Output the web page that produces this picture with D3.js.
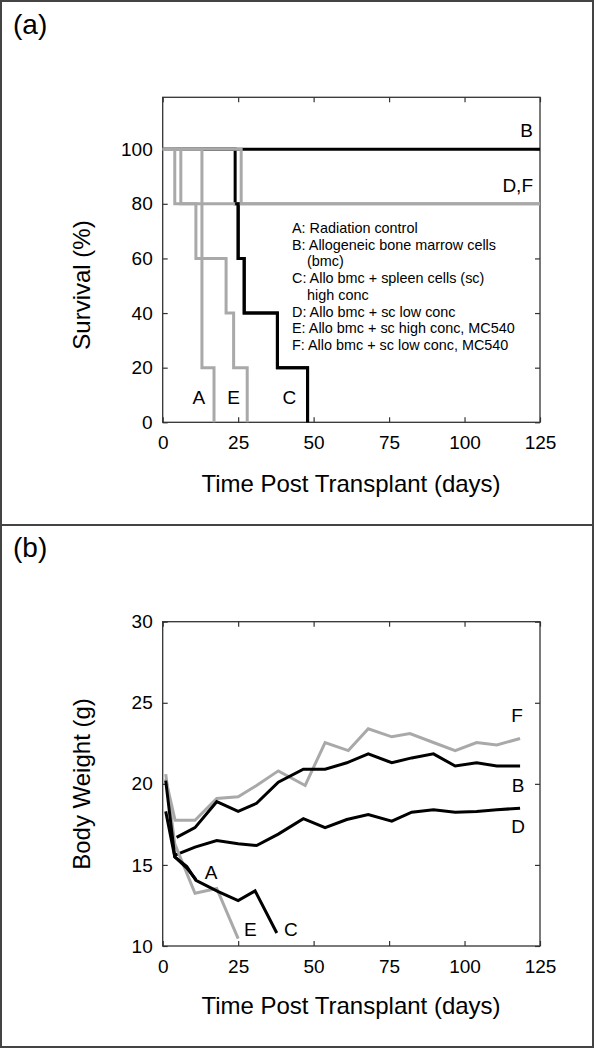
<!DOCTYPE html>
<html>
<head>
<meta charset="utf-8">
<script src="https://cdn.jsdelivr.net/npm/d3@7"></script>
<style>
  html, body { margin: 0; padding: 0; background: #fff; }
  svg { display: block; font-family: "Liberation Sans", Arial, sans-serif; }
</style>
</head>
<body>
<svg id="chart" width="596" height="1050"></svg>
<script>
// ---------- Panel (a): survival (step curves) ----------
const survXTicks = [0, 25, 50, 75, 100, 125];
const survYTicks = [0, 20, 40, 60, 80, 100];
const survA = [[0, 100], [13, 20], [17, 0]];
const survB = [[0, 100], [125, 100]];
const survC = [[0, 100], [24, 80], [25, 60], [27, 40], [38, 20], [48, 0]];
const survD = [[0, 100], [4, 80], [125, 80]];
const survE = [[0, 100], [6, 80], [11, 60], [21, 40], [23.5, 20], [28, 0]];
const survF = [[0, 100], [26, 80], [125, 80]];
const legendLines = [
  ["A: Radiation control", 0],
  ["B: Allogeneic bone marrow cells", 0],
  ["(bmc)", 1],
  ["C: Allo bmc + spleen cells (sc)", 0],
  ["high conc", 1],
  ["D: Allo bmc + sc low conc", 0],
  ["E: Allo bmc + sc high conc, MC540", 0],
  ["F: Allo bmc + sc low conc, MC540", 0]
];
const survLabels = [["B", 125, 100, "end", -12], ["D,F", 125, 80, "end", -12],
                    ["A", 12, 0, "middle", -18], ["E", 23.5, 0, "middle", -18], ["C", 42, 0, "middle", -18]];

// ---------- Panel (b): body weight ----------
const wtXTicks = [0, 25, 50, 75, 100, 125];
const wtYTicks = [10, 15, 20, 25, 30];
const wtA = [[1, 20.2], [4, 15.5], [8, 14.8], [11, 14.1]];
const wtB = [[4.6, 16.7], [10.7, 17.3], [17.9, 18.9], [25, 18.3], [31.1, 18.8], [38.3, 20.1], [46.6, 20.9], [53.8, 20.9], [61, 21.3], [68.1, 21.85], [75.9, 21.3], [82.5, 21.6], [89.7, 21.85], [96.9, 21.1], [104, 21.3], [110.7, 21.1], [118.4, 21.1]];
const wtC = [[1, 18.3], [4, 15.5], [8, 14.9], [11, 14.05], [18.4, 13.35], [25, 12.8], [30.6, 13.4], [37.8, 10.8]];
const wtD = [[4.1, 15.6], [10.7, 16.1], [17.9, 16.5], [25, 16.3], [31.1, 16.2], [38.3, 16.9], [46.6, 17.85], [53.8, 17.3], [61, 17.8], [68.1, 18.1], [75.9, 17.7], [82.5, 18.25], [89.7, 18.4], [96.9, 18.25], [104, 18.3], [110.7, 18.4], [118.4, 18.5]];
const wtE = [[1, 20.6], [4, 16.3], [10.7, 13.25], [17.9, 13.55], [25, 10.45]];
const wtF = [[1, 20.3], [4.1, 17.75], [10.7, 17.75], [17.9, 19.1], [25, 19.2], [31.1, 19.9], [38.3, 20.8], [47.2, 19.9], [53.8, 22.55], [61.5, 22.05], [68.1, 23.4], [75.9, 22.9], [81.9, 23.1], [89.7, 22.55], [96.9, 22.05], [104, 22.55], [110.7, 22.4], [118.4, 22.8]];
const wtLabels = [["F", 118.4, 22.8, "middle", -16, -3], ["B", 118.4, 21.1, "middle", 26, -2], ["D", 118.4, 18.5, "middle", 25, -2],
                  ["A", 16, 15.0, "middle", 14, 0], ["E", 29, 10.4, "middle", -4, 0], ["C", 42.5, 10.4, "middle", -4, 0]];

const BLACK = "#000", GRAY = "#a9a9a9";
const svg = d3.select("#chart");

// outer frame and divider
svg.append("rect").attr("x", 1).attr("y", 1).attr("width", 592).attr("height", 1046)
  .attr("fill", "none").attr("stroke", "#444").attr("stroke-width", 2);
svg.append("line").attr("x1", 0).attr("x2", 594).attr("y1", 525).attr("y2", 525)
  .attr("stroke", "#444").attr("stroke-width", 2);

svg.append("text").attr("x", 13).attr("y", 34).attr("font-size", 28).text("(a)");
svg.append("text").attr("x", 13).attr("y", 557).attr("font-size", 28).text("(b)");

function frame(g, x, y, xTicks, yTicks) {
  const [x0, x1] = x.range();
  const [y0, y1] = y.range();
  const tickFont = 19;
  const bottom = g.append("g").attr("transform", `translate(0,${y0})`)
    .call(d3.axisBottom(x).tickValues(xTicks).tickSizeInner(-5).tickSizeOuter(0).tickPadding(10));
  const top = g.append("g").attr("transform", `translate(0,${y1})`)
    .call(d3.axisTop(x).tickValues(xTicks).tickSizeInner(-5).tickSizeOuter(0).tickFormat(""));
  const left = g.append("g").attr("transform", `translate(${x0},0)`)
    .call(d3.axisLeft(y).tickValues(yTicks).tickSizeInner(-5).tickSizeOuter(0).tickPadding(10));
  const right = g.append("g").attr("transform", `translate(${x1},0)`)
    .call(d3.axisRight(y).tickValues(yTicks).tickSizeInner(-5).tickSizeOuter(0).tickFormat(""));
  [bottom, top, left, right].forEach(a => {
    a.select(".domain").remove();
    a.selectAll(".tick line").attr("stroke", "#333").attr("stroke-width", 1.2);
    a.selectAll("text").attr("font-size", tickFont).attr("font-family", "Liberation Sans, Arial, sans-serif").attr("fill", "#000");
  });
  bottom.selectAll("text").attr("dy", "0.9em");
  g.append("rect").attr("x", x0).attr("y", y1).attr("width", x1 - x0).attr("height", y0 - y1)
    .attr("fill", "none").attr("stroke", "#333").attr("stroke-width", 1.3);
}

// ---------- Panel a ----------
const xa = d3.scaleLinear().domain([0, 125]).range([162.7, 540]);
const ya = d3.scaleLinear().domain([0, 119]).range([422.3, 97.3]);
const ga = svg.append("g");
frame(ga, xa, ya, survXTicks, survYTicks);
const stepLine = d3.line().x(d => xa(d[0])).y(d => ya(d[1])).curve(d3.curveStepAfter);
const lg = ga.append("g").attr("fill", "none").attr("stroke-width", 3).attr("stroke-linejoin", "miter");
lg.append("path").datum(survB).attr("d", stepLine).attr("stroke", BLACK);
lg.append("path").datum(survC).attr("d", stepLine).attr("stroke", BLACK);
[survA, survD, survE, survF].forEach(s => lg.append("path").datum(s).attr("d", stepLine).attr("stroke", GRAY));
// C's drops over the gray lines
lg.append("path").datum(survC.slice(1)).attr("d", stepLine).attr("stroke", BLACK);

ga.selectAll(".slab").data(survLabels).join("text").attr("class", "slab")
  .attr("x", d => xa(d[1]) + (d[3] === "end" ? -7 : 0)).attr("y", d => ya(d[2]) + d[4])
  .attr("text-anchor", d => d[3]).attr("font-size", 19).text(d => d[0]);

ga.selectAll(".leg").data(legendLines).join("text").attr("class", "leg")
  .attr("x", d => d[1] ? 307 : 292).attr("y", (d, i) => 233 + i * 16.7)
  .attr("font-size", 14.4).text(d => d[0]);

ga.append("text").attr("x", 351).attr("y", 492).attr("text-anchor", "middle").attr("font-size", 24)
  .text("Time Post Transplant (days)");
ga.append("text").attr("transform", "translate(90,285) rotate(-90)").attr("text-anchor", "middle").attr("font-size", 24)
  .text("Survival (%)");

// ---------- Panel b ----------
const xb = d3.scaleLinear().domain([0, 125]).range([162.7, 540]);
const yb = d3.scaleLinear().domain([10, 30]).range([946, 621.7]);
const gb = svg.append("g");
frame(gb, xb, yb, wtXTicks, wtYTicks);
const line = d3.line().x(d => xb(d[0])).y(d => yb(d[1]));
const lb = gb.append("g").attr("fill", "none").attr("stroke-width", 3).attr("stroke-linejoin", "miter");
[[wtF, GRAY], [wtB, BLACK], [wtD, BLACK], [wtE, GRAY], [wtA, BLACK], [wtC, BLACK]].forEach(([s, c]) =>
  lb.append("path").datum(s).attr("d", line).attr("stroke", c));

gb.selectAll(".wlab").data(wtLabels).join("text").attr("class", "wlab")
  .attr("x", d => xb(d[1]) + d[5]).attr("y", d => yb(d[2]) + d[4])
  .attr("text-anchor", d => d[3]).attr("font-size", 19).text(d => d[0]);

gb.append("text").attr("x", 351).attr("y", 1014).attr("text-anchor", "middle").attr("font-size", 24)
  .text("Time Post Transplant (days)");
gb.append("text").attr("transform", "translate(90,784) rotate(-90)").attr("text-anchor", "middle").attr("font-size", 24)
  .text("Body Weight (g)");
</script>
</body>
</html>
